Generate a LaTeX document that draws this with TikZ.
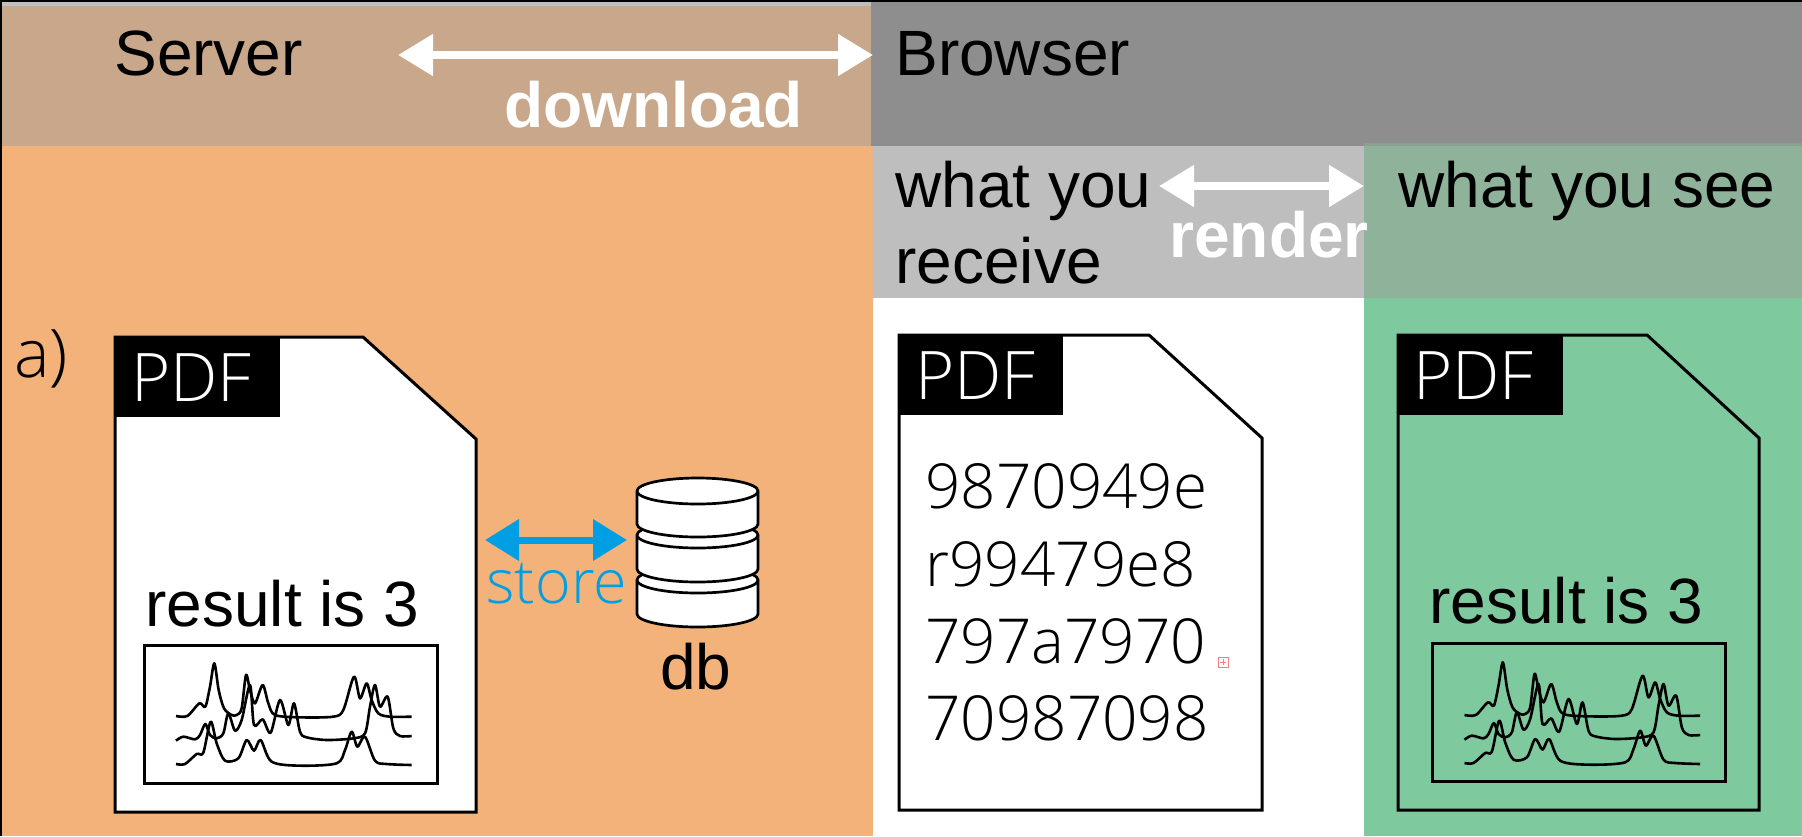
\documentclass[tikz,border=0pt]{standalone}
\usepackage{fontspec}
\usetikzlibrary{arrows.meta}
\setmainfont{Liberation Sans}
\newfontfamily\lightfont{Open Sans Light}
\definecolor{hdrbrown}{HTML}{C8A78A}
\definecolor{orangebg}{HTML}{F3B27A}
\definecolor{hdrgray}{HTML}{8E8E8E}
\definecolor{subgray}{HTML}{BEBEBE}
\definecolor{subgreen}{HTML}{8FB29A}
\definecolor{greenbg}{HTML}{7FC99F}
\definecolor{storeblue}{HTML}{009FE3}
\definecolor{plusred}{HTML}{F08088}
\tikzset{
  txt/.style={font=\fontsize{32}{36}\selectfont,anchor=base west,inner sep=0pt},
  lighttxt/.style={txt,font=\fontsize{31}{36}\selectfont\lightfont},
  biglight/.style={txt,font=\fontsize{33.5}{36}\selectfont\lightfont},
  storetxt/.style={txt,font=\fontsize{30.5}{36}\selectfont\lightfont,text=storeblue},
  boldwhite/.style={txt,font=\fontsize{32}{36}\selectfont\bfseries,text=white},
  pdftag/.style={biglight,text=white},
  docshape/.style={draw=black,line width=1.5pt,line join=miter},
  framebox/.style={draw=black,line width=1.5pt},
  wide/.style={white,line width=4pt,{Triangle[length=17.5pt,width=20pt]}-{Triangle[length=17.5pt,width=20pt]}},
  bluearrow/.style={storeblue,line width=3.5pt,{Triangle[length=17pt,width=20pt]}-{Triangle[length=17pt,width=20pt]}},
  trace/.style={line width=1.3pt,black,line join=round},
  dbpart/.style={draw=black,fill=white,line width=1.35pt},
}
\newcommand{\spectra}{%
  \draw[trace] plot[smooth,tension=.5] coordinates {(228,348)(262,348)(298,310)(316,320)(330,260)(343,190)(356,270)(372,325)(395,345)(410,345)(425,325)(438,225)(450,270)(465,310)(488,255)(505,310)(525,345)(600,352)(700,350)(730,330)(762,230)(780,295)(800,250)(815,300)(835,340)(870,350)(935,350)};
  \draw[trace] plot[smooth,tension=.5] coordinates {(228,422)(250,410)(285,418)(300,405)(316,372)(330,405)(350,415)(370,400)(385,340)(405,392)(425,360)(450,255)(462,375)(488,358)(512,398)(540,300)(565,375)(582,310)(600,395)(620,412)(680,420)(760,415)(795,400)(810,320)(825,255)(840,320)(863,290)(880,385)(900,408)(935,408)};
  \draw[trace] plot[smooth,tension=.5] coordinates {(228,492)(255,492)(290,462)(310,458)(332,365)(350,430)(375,482)(415,475)(440,420)(462,452)(482,420)(515,485)(600,497)(710,490)(735,450)(755,395)(772,440)(795,410)(825,482)(860,492)(935,495)};
}
\newcommand{\dbdisk}[2]{% top centre y, bottom centre y
  \draw[dbpart] (637,#1) arc[start angle=180,end angle=360,x radius=60.5,y radius=13] -- (758,#2) arc[start angle=0,end angle=180,x radius=60.5,y radius=13] -- cycle;
  \draw[dbpart] (637,#1) arc[start angle=180,end angle=0,x radius=60.5,y radius=13];
}
\begin{document}
\begin{tikzpicture}[x=.5pt,y=-.5pt]
\useasboundingbox (0,0) rectangle (1802,836);
% backgrounds
\fill[white] (0,0) rectangle (1802,836);
\fill[orangebg] (0,146) rectangle (873,836);
\fill[greenbg] (1364,146) rectangle (1802,836);
\fill[hdrbrown] (0,0) rectangle (871,146);
\fill[hdrgray] (871,0) rectangle (1802,146);
\fill[subgray] (873,146) rectangle (1364,298);
\fill[subgreen] (1364,143) rectangle (1802,298);
\fill[black!4!subgreen!60!hdrgray] (1364,143) rectangle (1802,146);
\fill[orangebg!75!subgray] (871,146) rectangle (873,298);
\fill[black!25] (0,2) rectangle (871,6);
\fill[black] (0,0) rectangle (1802,2);
\fill[black] (0,0) rectangle (2,836);
% header
\node[txt] (server) at (114,75) {Server};
\node[txt] (browser) at (895,75) {Browser};
\node[boldwhite] (download) at (504,127) {download};
\coordinate (dlL) at (398,55);
\coordinate (dlR) at (873,55);
\draw[wide] (dlL) -- (dlR);
% sub header
\node[txt] (wyr1) at (895,207) {what you};
\node[txt] (wyr2) at (895,283) {receive};
\node[txt] (wys) at (1398,207) {what you see};
\node[boldwhite] (render) at (1169,257) {render};
\coordinate (rnL) at (1159,186);
\coordinate (rnR) at (1364,186);
\draw[wide] (rnL) -- (rnR);
% a)
\node[biglight] (alabel) at (14,377) {a)};
% left document
\draw[docshape,fill=white] (115,337) -- (363,337) -- (476,439) -- (476,812) -- (115,812) -- cycle;
\fill[black] (115,337) rectangle (280,417);
\node[pdftag] (pdfA) at (131,401) {PDF};
\node[txt] (resA) at (145,626) {result is 3};
\draw[framebox] (144,645) rectangle (437,783);
\begin{scope}[shift={(100,600)},scale=1/3]\spectra\end{scope}
% database
\dbdisk{580}{614}
\dbdisk{535}{569}
\dbdisk{491}{524}
\node[txt] (db) at (660,689) {db};
\coordinate (stL) at (485,540);
\coordinate (stR) at (627,540);
\draw[bluearrow] (stL) -- (stR);
\node[storetxt] (store) at (486,603) {store};
% middle document
\draw[docshape,fill=white] (899,335) -- (1149,335) -- (1262,438) -- (1262,810) -- (899,810) -- cycle;
\fill[black] (899,335) rectangle (1063,415);
\node[pdftag] (pdfB) at (915,399) {PDF};
\node[lighttxt] (l1) at (925,508) {9870949e};
\node[lighttxt] (l2) at (925,586) {r99479e8};
\node[lighttxt] (l3) at (925,663) {797a7970};
\node[lighttxt] (l4) at (925,740) {70987098};
\draw[plusred,line width=.4pt] (1218,657) rectangle (1228,667);
\draw[plusred,line width=.4pt] (1220,662) -- (1226,662) (1223,659) -- (1223,665);
% right document
\draw[docshape] (1398,335) -- (1647,335) -- (1759,438) -- (1759,810) -- (1398,810) -- cycle;
\fill[black] (1398,335) rectangle (1563,415);
\node[pdftag] (pdfC) at (1413,399) {PDF};
\node[txt] (resC) at (1429,623) {result is 3};
\draw[framebox] (1432,643) rectangle (1725,781);
\begin{scope}[shift={(1388.5,599)},scale=1/3]\spectra\end{scope}
\end{tikzpicture}
\end{document}
